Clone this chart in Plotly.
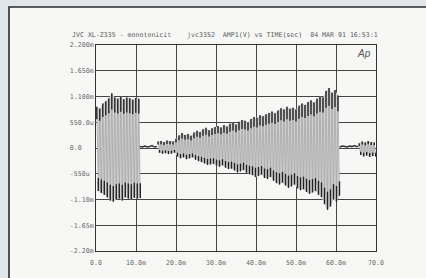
import plotly.graph_objects as go

# ---------------- data ----------------
x_tick_vals = [0, 10, 20, 30, 40, 50, 60, 70]
x_tick_text = ["0.0", "10.0m", "20.0m", "30.0m", "40.0m", "50.0m", "60.0m", "70.0"]
y_tick_vals = [2.2, 1.65, 1.1, 0.55, 0.0, -0.55, -1.1, -1.65, -2.2]
y_tick_text = ["2.200m", "1.650m", "1.100m", "550.0u", "0.0\u00a0\u00a0\u00a0",
               "-550u\u00a0", "-1.10m", "-1.65m", "-2.20m"]

tip_period = 0.75  # ms between successive positive peaks

burst_a_start = 0.2
burst_a_top = [0.88, 0.84, 0.95, 1.00, 1.06, 1.17, 1.08, 1.05, 1.10, 1.04, 1.08, 1.06, 1.03, 1.07, 1.05]
burst_a_bot = [-0.92, -0.96, -1.00, -1.05, -1.12, -1.15, -1.10, -1.08, -1.12, -1.05, -1.08, -1.10, -1.06, -1.08, -1.07]

burst_b_start = 15.5
burst_b_top = [0.14, 0.15, 0.13, 0.16, 0.15, 0.14, 0.20, 0.27, 0.32, 0.28, 0.30, 0.26,
               0.33, 0.37, 0.34, 0.40, 0.43, 0.38, 0.42, 0.45, 0.47, 0.44, 0.49, 0.46,
               0.52, 0.55, 0.50, 0.56, 0.60, 0.58, 0.55, 0.62, 0.66, 0.64, 0.70, 0.68,
               0.72, 0.75, 0.78, 0.74, 0.80, 0.85, 0.82, 0.88, 0.84, 0.86, 0.82, 0.90,
               0.95, 0.92, 0.98, 1.02, 0.97, 1.05, 1.10, 1.08, 1.22, 1.28, 1.18, 1.24, 1.12]
burst_b_bot = [-0.10, -0.12, -0.11, -0.13, -0.12, -0.10, -0.18, -0.22, -0.20, -0.24, -0.22, -0.20,
               -0.25, -0.28, -0.30, -0.33, -0.36, -0.35, -0.34, -0.38, -0.40, -0.37, -0.42, -0.45,
               -0.44, -0.48, -0.52, -0.50, -0.47, -0.53, -0.56, -0.58, -0.62, -0.60, -0.57, -0.64,
               -0.66, -0.62, -0.70, -0.75, -0.78, -0.74, -0.80, -0.85, -0.82, -0.78, -0.86, -0.90,
               -0.88, -0.94, -0.98, -0.95, -0.92, -1.00, -1.05, -1.20, -1.32, -1.25, -1.10, -1.15, -1.02]

burst_c_start = 65.8
burst_c_top = [0.10, 0.14, 0.12, 0.15, 0.13, 0.12]
burst_c_bot = [-0.15, -0.18, -0.16, -0.19, -0.17, -0.18]

quiet1_t = [10.95, 11.6, 12.2, 12.8, 13.4, 14.0, 14.6, 15.2]
quiet1_v = [0.03, 0.02, 0.04, 0.02, 0.03, 0.05, 0.02, 0.03]
quiet2_t = [60.9, 61.6, 62.2, 62.8, 63.4, 64.0, 64.6, 65.2, 65.6]
quiet2_v = [0.02, 0.04, 0.03, 0.02, 0.04, 0.03, 0.05, 0.03, 0.04]

title_text = ("JVC XL-Z335 - monotonicit\u00a0\u00a0\u00a0\u00a0jvc3352\u00a0\u00a0"
              "AMP1(V) vs TIME(sec)\u00a0\u00a004 MAR 91 16:53:1")

# ---------------- figure ----------------
MONO = "DejaVu Sans Mono"
fig = go.Figure()


def burst_traces(start, tops, bots):
    tt = [start + i * tip_period for i in range(len(tops))]
    tb = [t + tip_period / 2 for t in tt]
    # grey envelope
    px = tt + tb[::-1] + [tt[0]]
    py = list(tops) + list(bots)[::-1] + [tops[0]]
    fig.add_trace(go.Scatter(x=px, y=py, mode="lines", fill="toself",
                             fillcolor="#d0d0d0", line=dict(width=0),
                             hoverinfo="skip", showlegend=False))
    # oscillation strokes
    zx, zy = [], []
    for a, b, va, vb in zip(tt, tb, tops, bots):
        zx += [a, b]
        zy += [va, vb]
    fig.add_trace(go.Scatter(x=zx, y=zy, mode="lines",
                             line=dict(color="#a4a4a4", width=0.7),
                             hoverinfo="skip", showlegend=False))
    # dark peak marks
    dx, dy = [], []
    for a, v in zip(tt, tops):
        L = 0.27 * abs(v) + 0.03
        dx += [a, a, None]
        dy += [v, v - L, None]
    for b, v in zip(tb, bots):
        L = 0.27 * abs(v) + 0.03
        dx += [b, b, None]
        dy += [v, v + L, None]
    fig.add_trace(go.Scatter(x=dx, y=dy, mode="lines",
                             line=dict(color="#222222", width=1.35),
                             hoverinfo="skip", showlegend=False))


burst_traces(burst_a_start, burst_a_top, burst_a_bot)
burst_traces(burst_b_start, burst_b_top, burst_b_bot)
burst_traces(burst_c_start, burst_c_top, burst_c_bot)

for qt, qv in ((quiet1_t, quiet1_v), (quiet2_t, quiet2_v)):
    fig.add_trace(go.Scatter(x=qt, y=qv, mode="lines",
                             line=dict(color="#333333", width=1.5),
                             hoverinfo="skip", showlegend=False))

L_PX, R_PX, T_PX, B_PX = 96, 50, 45, 27
W, H = 426, 278
pw, ph = W - L_PX - R_PX, H - T_PX - B_PX
PAPER = "#dfe5e8"


def px_x(p):
    return (p - L_PX) / pw


def px_y(p):
    return (H - B_PX - p) / ph


fig.update_layout(
    width=W, height=H,
    margin=dict(l=L_PX, r=R_PX, t=T_PX, b=B_PX, pad=0),
    paper_bgcolor=PAPER,
    plot_bgcolor="#f7f8f6",
    showlegend=False,
    title=dict(text=title_text, x=72 / W, xref="container", xanchor="left",
               y=1 - 34.5 / H, yref="container", yanchor="middle",
               font=dict(family=MONO, size=6.6, color="#5a5a5a")),
    xaxis=dict(range=[0, 70], tickvals=x_tick_vals, ticktext=x_tick_text,
               showgrid=True, gridcolor="#454545", gridwidth=1, zeroline=False,
               showline=True, linecolor="#333333", linewidth=1, mirror=True,
               ticks="", ticklabelstandoff=5,
               tickfont=dict(family=MONO, size=6.6, color="#666666")),
    yaxis=dict(range=[-2.2, 2.2], tickvals=y_tick_vals, ticktext=y_tick_text,
               showgrid=True, gridcolor="#454545", gridwidth=1, zeroline=False,
               showline=True, linecolor="#333333", linewidth=1, mirror=True,
               ticks="", tickfont=dict(family=MONO, size=6.6, color="#666666")),
    shapes=[dict(type="rect", xref="paper", yref="paper", layer="below",
                 x0=px_x(9), x1=px_x(445), y0=px_y(295), y1=px_y(7),
                 fillcolor="#f7f8f6", line=dict(color="#2a2a2a", width=1.6))],
    annotations=[dict(x=70, y=2.2, xref="x", yref="y", xanchor="right", yanchor="top",
                      xshift=-3, yshift=-1, showarrow=False, text="<i>Ap</i>",
                      font=dict(family="Liberation Sans", size=10, color="#555555"))],
)

fig.write_html(
    "out.html",
    config={"displayModeBar": False},
    post_script=("document.body.style.margin='0';"
                 "document.body.style.overflow='hidden';"
                 "document.body.style.background='" + PAPER + "';"),
)
